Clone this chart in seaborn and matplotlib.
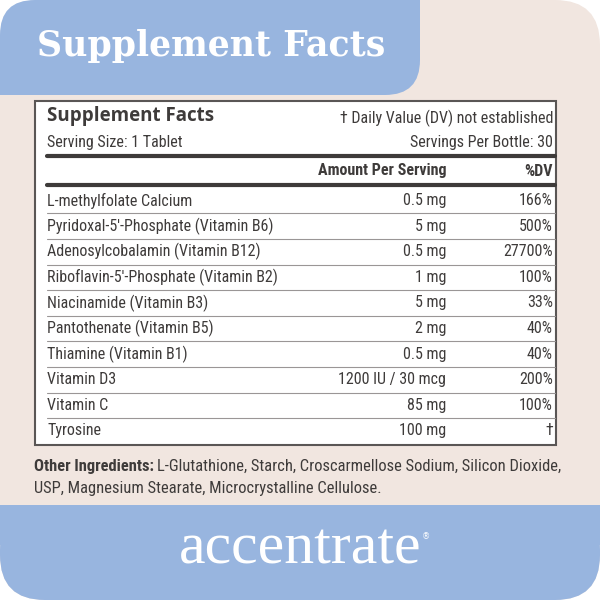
import matplotlib
matplotlib.use("Agg")
import matplotlib.pyplot as plt
from matplotlib.patches import FancyBboxPatch, Rectangle
from matplotlib import font_manager as fm
import seaborn as sns

sns.set_theme(style="white")

nutrients = ["L-methylfolate Calcium", "Pyridoxal-5'-Phosphate (Vitamin B6)",
             "Adenosylcobalamin (Vitamin B12)", "Riboflavin-5'-Phosphate (Vitamin B2)",
             "Niacinamide (Vitamin B3)", "Pantothenate (Vitamin B5)",
             "Thiamine (Vitamin B1)", "Vitamin D3", "Vitamin C", "Tyrosine"]
amounts = ["0.5 mg", "5 mg", "0.5 mg", "1 mg", "5 mg", "2 mg", "0.5 mg",
           "1200 IU / 30 mcg", "85 mg", "100 mg"]
dvs = ["166%", "500%", "27700%", "100%", "33%", "40%", "40%", "200%", "100%", "†"]

BLUE = "#98B5DF"
BEIGE = "#F1E6E0"
DARK = "#3E3B3A"
names = {f.name for f in fm.fontManager.ttflist}
COND = "DejaVu Sans"
for cand in ["Liberation Sans Narrow", "Roboto Condensed", "DejaVu Sans Condensed"]:
    if cand in names:
        COND = cand
        break
STRETCH = "condensed"
FS = 11.5 if COND != "DejaVu Sans" else 9.3

fig = plt.figure(figsize=(6, 6), dpi=100)
ax = fig.add_axes([0, 0, 1, 1])
ax.set_xlim(0, 600); ax.set_ylim(600, 0); ax.axis("off")

def t(x, y, s, **kw):
    kw.setdefault("fontsize", FS); kw.setdefault("color", DARK)
    kw.setdefault("family", COND); kw.setdefault("va", "center")
    kw.setdefault("fontstretch", STRETCH)
    return ax.text(x, y, s, **kw)

ax.add_patch(FancyBboxPatch((0, 0), 600, 600, boxstyle="round,pad=0,rounding_size=45",
                            fc=BEIGE, ec="none"))
ax.add_patch(FancyBboxPatch((0, 505), 600, 95, boxstyle="round,pad=0,rounding_size=45",
                            fc=BLUE, ec="none"))
ax.add_patch(Rectangle((0, 505), 600, 40, fc=BLUE, ec="none"))
ax.add_patch(FancyBboxPatch((0, 0), 420, 95, boxstyle="round,pad=0,rounding_size=35",
                            fc=BLUE, ec="none"))
ax.add_patch(Rectangle((380, 0), 40, 40, fc=BLUE, ec="none"))
ax.add_patch(Rectangle((0, 50), 40, 45, fc=BLUE, ec="none"))
ax.text(37, 46, "Supplement Facts", color="white", fontsize=25, family="DejaVu Serif",
        weight="semibold", va="center", ha="left")

ax.add_patch(Rectangle((35, 101), 521, 344, fc="white", ec="#5a5655", lw=1.5))
L, R, A = 47, 553, 446
ax.text(L, 116, "Supplement Facts", fontsize=13.5, weight="bold", color=DARK,
        family="Open Sans", va="center")
t(R, 118, "† Daily Value (DV) not established", ha="right")
t(L, 142, "Serving Size: 1 Tablet")
t(R, 142, "Servings Per Bottle: 30", ha="right")
ax.plot([L, R + 2], [156, 156], color=DARK, lw=3)
t(A, 171, "Amount Per Serving", weight="bold", ha="right")
t(R, 171, "%DV", weight="bold", ha="right")
ax.plot([L, R + 2], [185, 185], color=DARK, lw=3)

y0, dy = 200.5, 25.6
for i, (n, a, d) in enumerate(zip(nutrients, amounts, dvs)):
    y = y0 + i * dy
    t(L, y, n)
    t(A, y, a, ha="right")
    t(R, y, d, ha="right")
    if i < len(nutrients) - 1:
        ax.plot([L, R + 2], [y + dy / 2, y + dy / 2], color="#9a9696", lw=0.8)

FS2 = FS * 1.03
lab = t(34, 466, "Other Ingredients:", weight="bold", fontsize=FS2)
fig.canvas.draw()
bb = lab.get_window_extent().transformed(ax.transData.inverted())
t(bb.x1 + 3, 466, "L-Glutathione, Starch, Croscarmellose Sodium, Silicon Dioxide,", fontsize=FS2)
t(34, 488, "USP, Magnesium Stearate, Microcrystalline Cellulose.", fontsize=FS2)

ax.text(300, 549, "accentrate", color="white", fontsize=43, family="Liberation Serif",
        ha="center", va="center")
ax.text(426, 537, "®", color="white", fontsize=6, family="DejaVu Sans", ha="center", va="center")

fig.savefig("out.png", dpi=100)
